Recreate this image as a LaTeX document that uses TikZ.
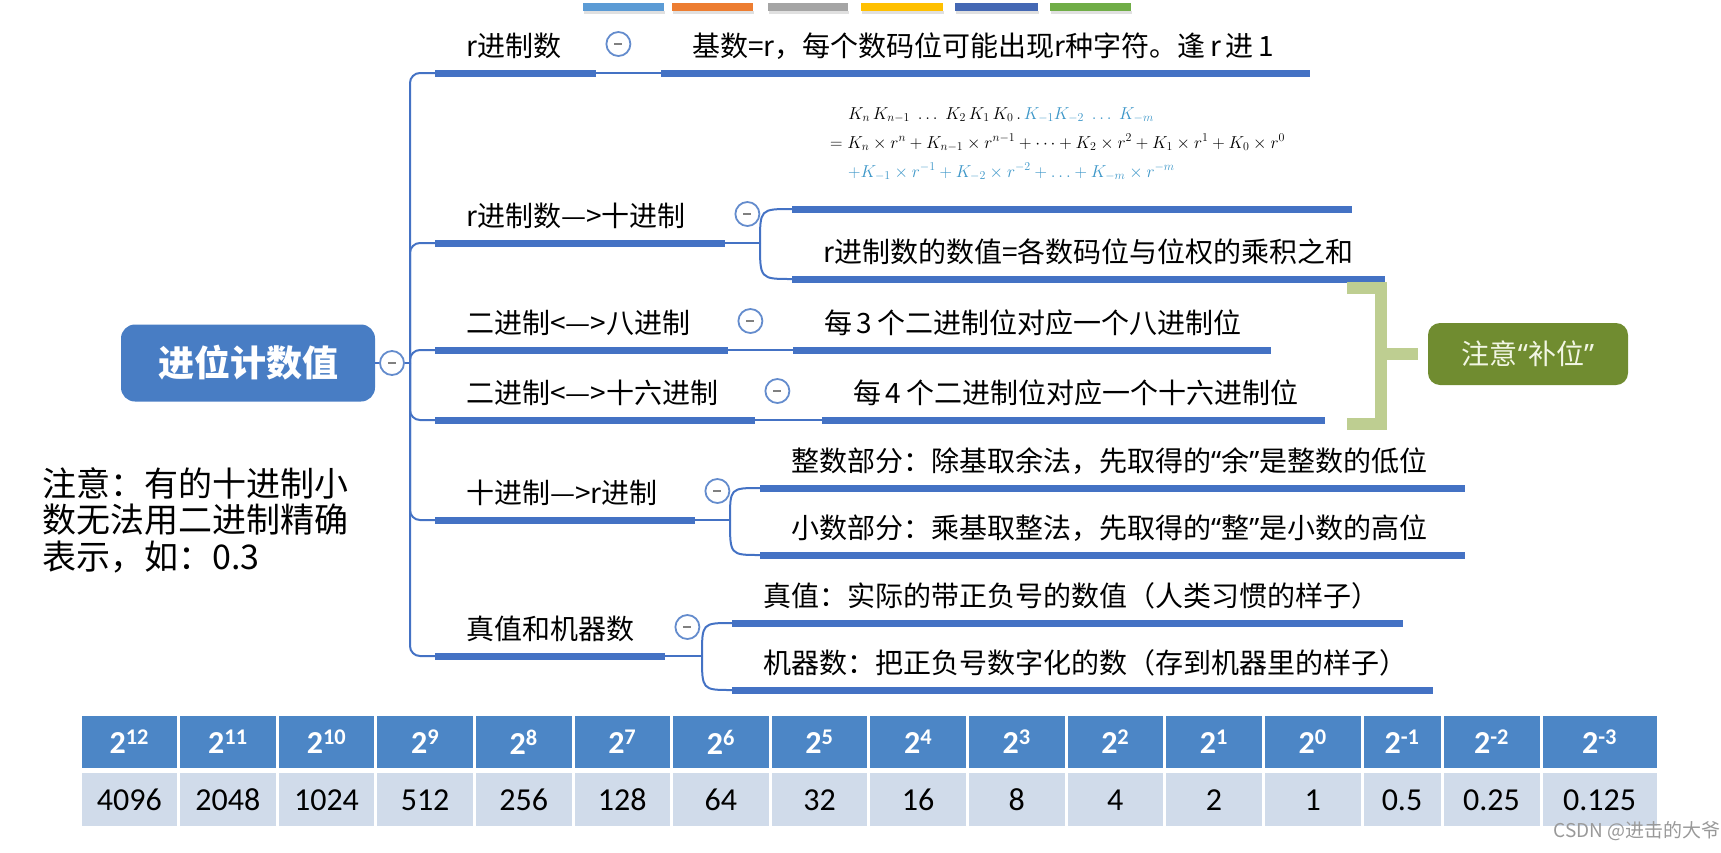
\documentclass[tikz,border=0pt]{standalone}
\usepackage{fontspec}
\newfontfamily\cjk{Noto Sans CJK SC}
\newfontfamily\latq{Noto Sans}
\newfontfamily\calib{Carlito}
\definecolor{mapblue}{RGB}{68,114,196}
\definecolor{rootblue}{RGB}{72,125,196}
\definecolor{btnblue}{RGB}{100,140,205}
\definecolor{fblue}{RGB}{60,150,200}
\definecolor{headblue}{RGB}{76,134,198}
\definecolor{cellblue}{RGB}{208,219,234}
\definecolor{hintgreen}{RGB}{112,140,48}
\definecolor{bracegreen}{RGB}{190,206,145}
\definecolor{bar1}{RGB}{91,155,213}
\definecolor{bar2}{RGB}{237,125,49}
\definecolor{bar3}{RGB}{165,165,165}
\definecolor{bar4}{RGB}{255,192,0}
\definecolor{bar5}{RGB}{68,104,180}
\definecolor{bar6}{RGB}{112,173,71}

\begin{document}
\begin{tikzpicture}[x=1pt, y=-1pt,
    topic/.style={anchor=south west, text width=#1, align=left, inner xsep=31pt, inner ysep=0pt,
        minimum height=54pt, font=\cjk\fontsize{28}{34}\selectfont},
    uline/.style={mapblue, line width=7pt},
    link/.style={mapblue, line width=2pt, rounded corners=10pt},
    btn/.style={circle, draw=btnblue, line width=1.8pt, fill=white, minimum size=24pt, inner sep=0pt,
        path picture={\draw[gray, line width=1.5pt] ([xshift=-4pt]path picture bounding box.center)
            -- ([xshift=4pt]path picture bounding box.center);}},
    root/.style={fill=rootblue, rounded corners=14pt, minimum width=254pt, minimum height=77pt,
        text=white, font=\cjk\bfseries\fontsize{36}{40}\selectfont},
    hint/.style={fill=hintgreen, rounded corners=12pt, minimum width=200pt, minimum height=62pt,
        text={rgb,255:red,242;green,246;blue,228}, font=\cjk\fontsize{28}{30}\selectfont},
    brace/.style={bracegreen, line width=12pt},
    remark/.style={anchor=west, align=left, inner sep=0pt, font=\cjk\fontsize{34}{36.5}\selectfont},
    hcell/.style={text=white, font=\calib\bfseries\fontsize{32}{36}\selectfont},
    vcell/.style={font=\calib\fontsize{32}{36}\selectfont},
    wmark/.style={text=black!40, font=\cjk\fontsize{19}{22}\selectfont}]
    \useasboundingbox (0,0) rectangle (1721,852);

    % palette bars
    \foreach \c/\xa/\xb in {bar1/583/664, bar2/672/753, bar3/768/848, bar4/861/943, bar5/955/1038, bar6/1050/1131}{
        \fill[black!12] (\xa+1,11) rectangle (\xb+1,14);
        \fill[\c] (\xa,3) rectangle (\xb,11);
    }

    % root
    \node[root] (root) at (248,363) {进位计数值};
    \node[btn] (rootc) at (392,363) {};
    \coordinate (hub) at (410,363);

    % branches
    \node[topic=99pt] (b1) at (435,73) {r进制数};
    \node[topic=228pt] (b2) at (435,243) {r进制数—>十进制};
    \node[topic=231pt] (b3) at (435,350) {二进制<—>八进制};
    \node[topic=258pt] (b4) at (435,420) {二进制<—>十六进制};
    \node[topic=198pt] (b5) at (435,520) {十进制—>r进制};
    \node[topic=168pt] (b6) at (435,656) {真值和机器数};

    % children
    \node[topic=587pt] (c1) at (661,73) {基数=r，每个数码位可能出现r种字符。逢\,r\,进\,1};
    \node[topic=484pt, inner xsep=38pt, inner ysep=23pt, font=\fontsize{16.7}{29}\selectfont] (c2a) at (792,209)
        {\begin{tabular}{@{}l@{}}
            \hspace{18pt}$K_n\,K_{n-1}\;\dots\;K_2\,K_1\,K_0\,.\,{\color{fblue}K_{-1}K_{-2}\;\dots\;K_{-m}}$\\
            $=K_n\times r^n+K_{n-1}\times r^{n-1}+\cdots+K_2\times r^2+K_1\times r^1+K_0\times r^0$\\
            \hspace{18pt}\color{fblue}$+K_{-1}\times r^{-1}+K_{-2}\times r^{-2}+\dots+K_{-m}\times r^{-m}$
        \end{tabular}};
    \node[topic=531pt] (c2b) at (792,279) {r进制数的数值=各数码位与位权的乘积之和};
    \node[topic=416pt] (c3) at (793,350) {每\,3\,个二进制位对应一个八进制位};
    \node[topic=441pt] (c4) at (822,420) {每\,4\,个二进制位对应一个十六进制位};
    \node[topic=643pt] (c5a) at (760,488) {整数部分：除基取余法，先取得的{\latq “}余{\latq ”}是整数的低位};
    \node[topic=643pt] (c5b) at (760,555) {小数部分：乘基取整法，先取得的{\latq “}整{\latq ”}是小数的高位};
    \node[topic=609pt] (c6a) at (732,623) {真值：实际的带正负号的数值（人类习惯的样子）};
    \node[topic=639pt] (c6b) at (732,690) {机器数：把正负号数字化的数（存到机器里的样子）};

    \foreach \n in {b1,b2,b3,b4,b5,b6,c1,c2a,c2b,c3,c4,c5a,c5b,c6a,c6b}
        \draw[uline] (\n.south west) -- (\n.south east);

    % links
    \draw[link] (root) -- (rootc);
    \draw[link] (rootc) -- (hub);
    \foreach \b in {b1,b2,b3,b4,b5,b6}
        \draw[link] (hub) |- (\b.south west);
    \draw[link] (b1.south east) -- (c1.south west);
    \draw[link] (b3.south east) -- (c3.south west);
    \draw[link] (b4.south east) -- (c4.south west);
    \coordinate (f2) at (760,243);
    \coordinate (f5) at (730,520);
    \coordinate (f6) at (702,656);
    \draw[link] (b2.south east) -- (f2);
    \draw[link] (f2) .. controls (f2 |- c2a.south west) .. (c2a.south west);
    \draw[link] (f2) .. controls (f2 |- c2b.south west) .. (c2b.south west);
    \draw[link] (b5.south east) -- (f5);
    \draw[link] (f5) .. controls (f5 |- c5a.south west) .. (c5a.south west);
    \draw[link] (f5) .. controls (f5 |- c5b.south west) .. (c5b.south west);
    \draw[link] (b6.south east) -- (f6);
    \draw[link] (f6) .. controls (f6 |- c6a.south west) .. (c6a.south west);
    \draw[link] (f6) .. controls (f6 |- c6b.south west) .. (c6b.south west);

    % collapse buttons
    \foreach \b in {b1,b2,b3,b4,b5,b6}
        \node[btn] (\b c) at ([shift={(22,-29)}]\b.south east) {};

    % padding note
    \node[hint] (hint) at (1528,354) {注意{\latq “}补位{\latq ”}};
    \draw[brace] (1347,288) -| (1381,424) -- (1347,424);
    \coordinate (brk) at (1381,354);
    \draw[brace] (brk) -- ([xshift=-10pt]hint.west);

    \node[remark] (remark) at (42,520) {注意：有的十进制小\\数无法用二进制精确\\表示，如：0.3};

    % powers of two
    \foreach \e/\v/\xa/\xb [count=\i] in {12/4096/80/178.6, 11/2048/178.6/277.2, 10/1024/277.2/375.8,
        9/512/375.8/474.4, 8/256/474.4/573, 7/128/573/671.6, 6/64/671.6/770.2, 5/32/770.2/868.8,
        4/16/868.8/967.4, 3/8/967.4/1066, 2/4/1066/1164.6, 1/2/1164.6/1263.2, 0/1/1263.2/1362,
        -1/0.5/1362/1442, -2/0.25/1442/1541, -3/0.125/1541/1658}{
        \fill[headblue] (\xa+1.5,716) rectangle (\xb-1.5,768);
        \fill[cellblue] (\xa+1.5,773) rectangle (\xb-1.5,826);
        \node[hcell] (h\i) at ({(\xa+\xb)/2},742) {2\textsuperscript{\e}};
        \node[vcell] (v\i) at ({(\xa+\xb)/2},800) {\v};
    }

    \node[wmark] (wm) at (1637,831) {CSDN @进击的大爷};
\end{tikzpicture}
\end{document}
